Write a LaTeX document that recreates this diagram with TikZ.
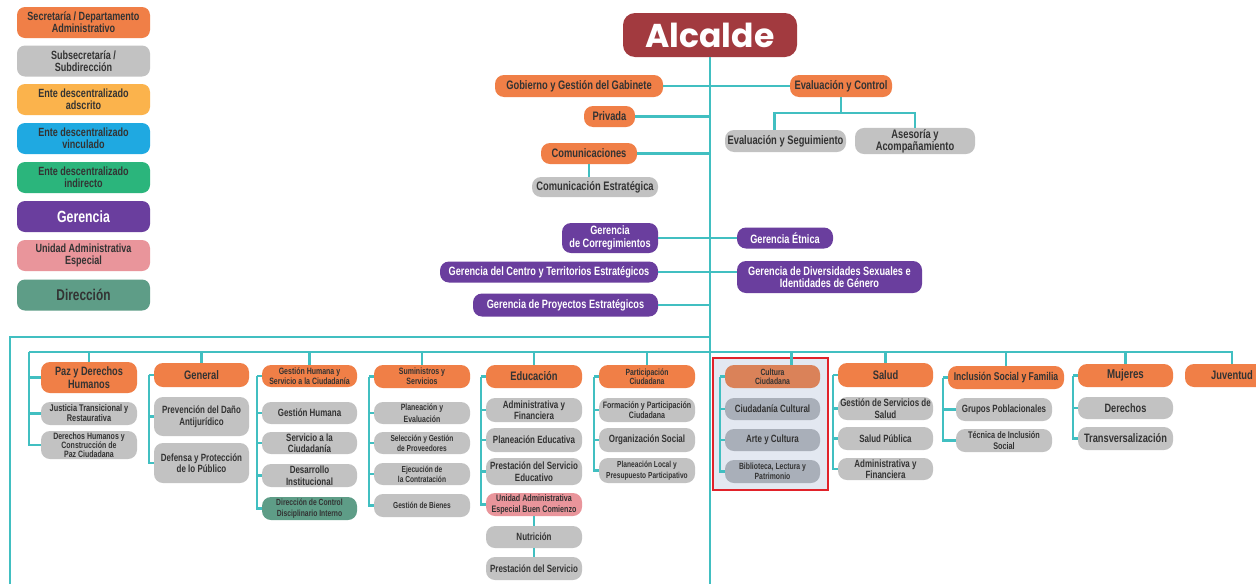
\documentclass[tikz,border=0pt]{standalone}
\usepackage{fontspec}
\setmainfont{Liberation Sans}[FakeStretch=0.76]
\newfontfamily\alcfont{Poppins}
\usepackage{tikz}
\definecolor{OrgLink}{HTML}{41BFC1}
\definecolor{OrgText}{HTML}{333333}
\definecolor{OrgSecretaria}{HTML}{F07F47}
\definecolor{OrgSub}{HTML}{C2C2C2}
\definecolor{OrgAdscrito}{HTML}{FBB34C}
\definecolor{OrgVinculado}{HTML}{1FA9E1}
\definecolor{OrgIndirecto}{HTML}{2BB57C}
\definecolor{OrgGerencia}{HTML}{6A3E9E}
\definecolor{OrgUAE}{HTML}{E9959B}
\definecolor{OrgDireccion}{HTML}{5E9D87}
\definecolor{OrgAlcalde}{HTML}{A23A3F}
\definecolor{OrgFrame}{HTML}{E1222A}
\definecolor{OrgHighlight}{HTML}{E3E8F1}
\definecolor{OrgCulturaHead}{HTML}{DA8259}
\definecolor{OrgCulturaSub}{HTML}{A9AFB9}

\begin{document}
\begin{tikzpicture}[x=1pt,y=-1pt,
    link/.style={draw=OrgLink,line width=2.4pt},
    fs/.style 2 args={font=\bfseries\fontsize{#1}{#2}\selectfont},
    box/.style={rounded corners=9pt,align=center,inner sep=1pt,text=OrgText,minimum height=22pt,fs={10.5}{11.5}},
    sec/.style={box,fill=OrgSecretaria,minimum height=23pt,fs={12.3}{13}},
    sub/.style={box,fill=OrgSub},
    ger/.style={box,fill=OrgGerencia,text=white,fs={12.1}{12.5}},
    uae/.style={box,fill=OrgUAE},
    dir/.style={box,fill=OrgDireccion},
    col/.style={minimum width=96pt},
    leg/.style={minimum width=133pt,minimum height=31pt,rounded corners=8pt,fs={11.9}{12}}]
    \fill[white] (0,0) rectangle (1256,584);
    \useasboundingbox (0,0) rectangle (1256,584);

    \node[sec,leg] (lsec) at (83.5,22.5) {Secretaría / Departamento\\Administrativo};
    \node[sub,leg] (lsub) at (83.5,61) {Subsecretaría /\\Subdirección};
    \node[box,leg,fill=OrgAdscrito] (lads) at (83.5,99.5) {Ente descentralizado\\adscrito};
    \node[box,leg,fill=OrgVinculado] (lvin) at (83.5,138.5) {Ente descentralizado\\vinculado};
    \node[box,leg,fill=OrgIndirecto] (lind) at (83.5,177.5) {Ente descentralizado\\indirecto};
    \node[ger,leg,fs={16.2}{16}] (lger) at (83.5,216.5) {Gerencia};
    \node[uae,leg] (luae) at (83.5,255.5) {Unidad Administrativa\\Especial};
    \node[dir,leg,fs={15.6}{16}] (ldir) at (83.5,295) {Dirección};

    \coordinate (bot) at (710,584);
    \coordinate (outer) at (10,337);
    \coordinate (busL) at (29,352);
    \draw[OrgFrame,line width=2.6pt,fill=OrgHighlight] (713,358) rectangle (828,490);

    \node[box,fill=OrgAlcalde,text=white,minimum width=174pt,minimum height=44pt,rounded corners=12pt,
      font=\alcfont\bfseries\fontsize{33}{33}\selectfont] (alc) at (710,35) {Alcalde};
    \node[sec,minimum width=168pt,minimum height=22pt] (gob) at (579,86) {Gobierno y Gestión del Gabinete};
    \node[sec,minimum width=102pt,minimum height=22pt] (evc) at (841,86) {Evaluación y Control};
    \node[sec,minimum width=51pt,minimum height=21pt] (priv) at (609.5,116.5) {Privada};
    \node[sec,col,minimum height=21pt] (com) at (589,153.5) {Comunicaciones};
    \node[sub,minimum width=126pt,minimum height=20pt,fs={12.3}{13}] (come) at (595,187) {Comunicación Estratégica};
    \node[sub,minimum width=121pt,fs={12.3}{13}] (evs) at (785.5,141) {Evaluación y Seguimiento};
    \node[sub,minimum width=120pt,minimum height=26pt,fs={12.3}{11}] (ase) at (915,141) {Asesoría y\\Acompañamiento};

    \node[ger,col,minimum height=30pt] (corr) at (610,238) {Gerencia\\de Corregimientos};
    \node[ger,col,minimum height=21pt] (etn) at (785,238) {Gerencia Étnica};
    \node[ger,minimum width=218pt,minimum height=21pt] (centro) at (549,272) {Gerencia del Centro y Territorios Estratégicos};
    \node[ger,minimum width=185pt,minimum height=32pt] (div) at (829.5,277) {Gerencia de Diversidades Sexuales e\\Identidades de Género};
    \node[ger,minimum width=185pt,minimum height=23pt] (proy) at (565.5,305) {Gerencia de Proyectos Estratégicos};

    \node[sec,col,minimum height=31pt,fs={12.1}{13.5}] (paz) at (89,377.5) {Paz y Derechos\\Humanos};
    \node[sub,col,minimum height=23pt,fs={9.7}{8.2}] (jus) at (89,413.5) {Justicia Transicional y\\Restaurativa};
    \node[sub,col,minimum height=28pt,fs={9.2}{8.4}] (dhc) at (89,445) {Derechos Humanos y\\Construcción de\\Paz Ciudadana};

    \node[sec,minimum width=95pt,minimum height=24pt] (gen) at (201.5,375) {General};
    \node[sub,minimum width=95pt,minimum height=39pt] (pda) at (201.5,416.5) {Prevención del Daño\\Antijurídico};
    \node[sub,minimum width=95pt,minimum height=40pt] (dpp) at (201.5,463) {Defensa y Protección\\de lo Público};

    \node[sec,minimum width=95pt,minimum height=22pt,fs={9.2}{10}] (ghs) at (309.5,376) {Gestión Humana y\\Servicio a la Ciudadanía};
    \node[sub,minimum width=95pt] (ghu) at (309.5,413) {Gestión Humana};
    \node[sub,minimum width=95pt] (sac) at (309.5,443) {Servicio a la\\Ciudadanía};
    \node[sub,minimum width=95pt,minimum height=23pt] (din) at (309.5,475.5) {Desarrollo\\Institucional};
    \node[dir,minimum width=95pt,minimum height=23pt,fs={8.9}{10.5}] (dcd) at (309.5,508.5) {Dirección de Control\\Disciplinario Interno};

    \node[sec,col,fs={9.2}{10}] (sum) at (422,376.5) {Suministros y\\Servicios};
    \node[sub,col,fs={9.1}{11.5}] (pev) at (422,413) {Planeación y\\Evaluación};
    \node[sub,col,fs={8.7}{10}] (sgp) at (422,443) {Selección y Gestión\\de Proveedores};
    \node[sub,col,fs={8.7}{10}] (ejc) at (422,474) {Ejecución de\\la Contratación};
    \node[sub,col,minimum height=23pt,fs={8.7}{10}] (gbi) at (422,505.5) {Gestión de Bienes};

    \node[sec,col] (edu) at (534,376.5) {Educación};
    \node[sub,col,minimum height=24pt] (eaf) at (534,410) {Administrativa y\\Financiera};
    \node[sub,col,minimum height=24pt] (ped) at (534,440) {Planeación Educativa};
    \node[sub,col,minimum height=27pt] (pse) at (534,471.5) {Prestación del Servicio\\Educativo};
    \node[uae,col,minimum height=23pt,fs={9.4}{10.5}] (ubc) at (534,504.5) {Unidad Administrativa\\Especial Buen Comienzo};
    \node[sub,col] (nut) at (534,537) {Nutrición};
    \node[sub,col,minimum height=23pt] (psv) at (534,568.5) {Prestación del Servicio};

    \node[sec,col,fs={9}{9}] (par) at (647,376.5) {Participación\\Ciudadana};
    \node[sub,col,minimum height=24pt,fs={9.3}{10.5}] (fpc) at (647,410) {Formación y Participación\\Ciudadana};
    \node[sub,col,minimum height=24pt] (osc) at (647,440) {Organización Social};
    \node[sub,col,minimum height=25pt,fs={8.7}{10.5}] (plp) at (647,470.5) {Planeación Local y\\Presupuesto Participativo};

    \node[sec,minimum width=95pt,fill=OrgCulturaHead,fs={9}{9}] (cul) at (772.5,376.5) {Cultura\\Ciudadana};
    \node[sub,minimum width=95pt,fill=OrgCulturaSub] (ccu) at (772.5,409) {Ciudadanía Cultural};
    \node[sub,minimum width=95pt,fill=OrgCulturaSub] (ayc) at (772.5,440) {Arte y Cultura};
    \node[sub,minimum width=95pt,minimum height=23pt,fill=OrgCulturaSub,fs={9}{10}] (blp) at (772.5,471.5) {Biblioteca, Lectura y\\Patrimonio};

    \node[sec,minimum width=95pt,minimum height=24pt] (sal) at (885.5,375) {Salud};
    \node[sub,minimum width=95pt,minimum height=23pt] (gss) at (885.5,408.5) {Gestión de Servicios de\\Salud};
    \node[sub,minimum width=95pt,minimum height=23pt] (spu) at (885.5,438.5) {Salud Pública};
    \node[sub,minimum width=95pt] (saf) at (885.5,469) {Administrativa y\\Financiera};

    \node[sec,minimum width=116pt,fs={11.3}{12}] (inc) at (1006,377.5) {Inclusión Social y Familia};
    \node[sub,col,minimum height=23pt] (gpo) at (1004,409.5) {Grupos Poblacionales};
    \node[sub,col,minimum height=23pt,fs={9.6}{10.5}] (tis) at (1004,440.5) {Técnica de Inclusión\\Social};

    \node[sec,minimum width=95pt,fs={12.8}{13}] (muj) at (1125.5,375.5) {Mujeres};
    \node[sub,minimum width=95pt,fs={12.1}{13}] (der) at (1125.5,408) {Derechos};
    \node[sub,minimum width=95pt,minimum height=23pt,fs={12.2}{13}] (tra) at (1125.5,438.5) {Transversalización};

    \node[sec,minimum width=94pt] (juv) at (1232,375.5) {Juventud};

    \draw[link] (alc.south) -- (bot);
    \draw[link] (outer |- bot) -- (outer) -- (outer -| bot);
    \draw[link] (gob.east) -- (evc.west);
    \draw[link] (priv.east) -- (priv.east -| bot);
    \draw[link] (com.east) -- (com.east -| bot);
    \draw[link] (com.south) -- (com.south |- come.north);
    \draw[link] (evc.south) -- ++(0,16) coordinate (evcbar);
    \draw[link] ([xshift=-11pt]evs.north) |- (evcbar);
    \draw[link] (ase.north) |- (evcbar);
    \draw[link] (corr.east) -- (etn.west);
    \draw[link] (centro.east) -- (centro.east -| div.west);
    \draw[link] (proy.east) -- (proy.east -| bot);

    \draw[link] (busL) -| (juv.north);
    \foreach \h in {paz,gen,ghs,sum,edu,par,sal,inc,muj}
      \draw[link] (\h.north) -- (\h.north |- busL);
    \draw[link] ([xshift=19pt]cul.north) -- ([xshift=19pt]cul.north |- busL);
    \foreach \c in {paz,jus,dhc}
      \draw[link] (busL) |- (\c.west);
    \foreach \h/\kids in {gen/{gen,pda,dpp},ghs/{ghs,ghu,sac,din,dcd},sum/{sum,pev,sgp,ejc,gbi},
        edu/{edu,eaf,ped,pse,ubc},par/{par,fpc,osc,plp},cul/{cul,ccu,ayc,blp},
        sal/{sal,gss,spu,saf},inc/{inc,gpo,tis},muj/{muj,der,tra}}
      \foreach \c in \kids
        \draw[link] ([xshift=-5pt]\h.west) |- (\c.west);
    \draw[link] (ubc.south) -- (nut.north);
    \draw[link] (nut.south) -- (psv.north);
  \end{tikzpicture}
\end{document}
